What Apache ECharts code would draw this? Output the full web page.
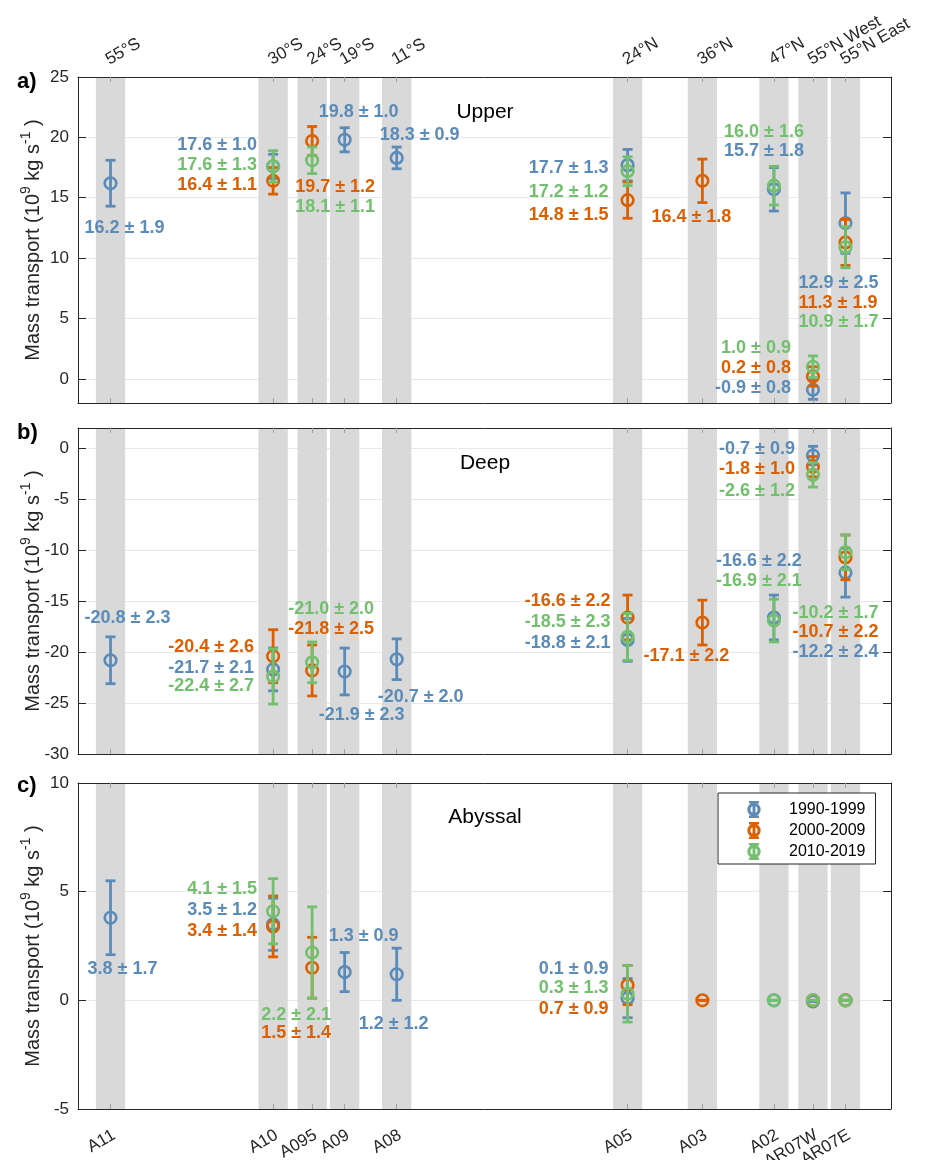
<!DOCTYPE html>
<html><head><meta charset="utf-8">
<script src="https://cdn.jsdelivr.net/npm/echarts@6/dist/echarts.min.js"></script>
<style>html,body{margin:0;padding:0;background:#fff}#c{width:928px;height:1160px}</style>
</head><body><div id="c"></div>
<script>
// ---------- data ----------
const sections = ['A11','A10','A095','A09','A08','A05','A03','A02','AR07W','AR07E'];
const latLabels = ['55°S','30°S','24°S','19°S','11°S','24°N','36°N','47°N','55°N West','55°N East'];
const sectionX = [-55,-30,-24,-19,-11,24.5,36,47,53,58];
const periods = ['1990-1999','2000-2009','2010-2019'];

const upper1990    = [16.2, 17.6, null, 19.8, 18.3, 17.7, null, 15.7, -0.9, 12.9];
const upper1990Err = [1.9, 1.0, null, 1.0, 0.9, 1.3, null, 1.8, 0.8, 2.5];
const upper2000    = [null, 16.4, 19.7, null, null, 14.8, 16.4, null, 0.2, 11.3];
const upper2000Err = [null, 1.1, 1.2, null, null, 1.5, 1.8, null, 0.8, 1.9];
const upper2010    = [null, 17.6, 18.1, null, null, 17.2, null, 16.0, 1.0, 10.9];
const upper2010Err = [null, 1.3, 1.1, null, null, 1.2, null, 1.6, 0.9, 1.7];

const deep1990    = [-20.8, -21.7, null, -21.9, -20.7, -18.8, null, -16.6, -0.7, -12.2];
const deep1990Err = [2.3, 2.1, null, 2.3, 2.0, 2.1, null, 2.2, 0.9, 2.4];
const deep2000    = [null, -20.4, -21.8, null, null, -16.6, -17.1, null, -1.8, -10.7];
const deep2000Err = [null, 2.6, 2.5, null, null, 2.2, 2.2, null, 1.0, 2.2];
const deep2010    = [null, -22.4, -21.0, null, null, -18.5, null, -16.9, -2.6, -10.2];
const deep2010Err = [null, 2.7, 2.0, null, null, 2.3, null, 2.1, 1.2, 1.7];

const abyssal1990    = [3.8, 3.5, null, 1.3, 1.2, 0.1, null, 0, -0.05, 0];
const abyssal1990Err = [1.7, 1.2, null, 0.9, 1.2, 0.9, null, 0, 0, 0];
const abyssal2000    = [null, 3.4, 1.5, null, null, 0.7, 0, null, 0, 0];
const abyssal2000Err = [null, 1.4, 1.4, null, null, 0.9, 0, null, 0, 0];
const abyssal2010    = [null, 4.1, 2.2, null, null, 0.3, null, 0, 0, 0];
const abyssal2010Err = [null, 1.5, 2.1, null, null, 1.3, null, 0, 0, 0];

const upperTicks = [0, 5, 10, 15, 20, 25];
const deepTicks = [-30, -25, -20, -15, -10, -5, 0];
const abyssalTicks = [-5, 0, 5, 10];

// ---------- layout of annotation labels: [section, period, y (data units), dx px, align] ----------
const upperLabelLayout = [
  [0,0,12.5,-26,'left'],
  [1,0,19.37,-16,'right'],[1,2,17.72,-16,'right'],[1,1,16.06,-16,'right'],
  [2,1,15.9,-17,'left'],[2,2,14.24,-17,'left'],
  [3,0,22.1,-26,'left'],
  [4,0,20.2,-17,'left'],
  [5,0,17.47,-19,'right'],[5,2,15.48,-19,'right'],[5,1,13.58,-19,'right'],
  [6,1,13.41,-51,'left'],
  [7,2,20.45,30,'right'],[7,0,18.87,30,'right'],
  [9,0,7.95,-47,'left'],[9,1,6.29,-47,'left'],[9,2,4.72,-47,'left'],
  [8,2,2.57,-22,'right'],[8,1,0.91,-22,'right'],[8,0,-0.75,-22,'right']
];
const deepLabelLayout = [
  [0,0,-16.7,-26,'left'],
  [1,1,-19.47,-19,'right'],[1,0,-21.53,-19,'right'],[1,2,-23.3,-19,'right'],
  [2,2,-15.73,-24,'left'],[2,1,-17.7,-24,'left'],
  [3,0,-26.16,-26,'left'],
  [4,0,-24.39,-19,'left'],
  [5,1,-14.95,-17,'right'],[5,2,-17.01,-17,'right'],[5,0,-19.08,-17,'right'],
  [6,1,-20.35,-59,'left'],
  [8,0,-0.1,-18,'right'],[8,1,-2.06,-18,'right'],[8,2,-4.23,-18,'right'],
  [7,0,-11.1,-58,'left'],[7,2,-12.98,-58,'left'],
  [9,2,-16.13,-53,'left'],[9,1,-17.99,-53,'left'],[9,0,-19.96,-53,'left']
];
const abyssalLabelLayout = [
  [0,0,1.44,-23,'left'],
  [1,2,5.12,-16,'right'],[1,0,4.16,-16,'right'],[1,1,3.19,-16,'right'],
  [2,2,-0.68,-51,'left'],[2,1,-1.5,-51,'left'],
  [3,0,2.96,-16,'left'],
  [4,0,-1.09,-38,'left'],
  [5,0,1.44,-19,'right'],[5,2,0.57,-19,'right'],[5,1,-0.4,-19,'right']
];

// ---------- styles ----------
const colors = ['#5b8bb8', '#dc5f00', '#72c06e'];
const FONT = '"Liberation Sans", Arial, Helvetica, sans-serif';
const AX = '#262626';
const bandWidth = 4.5;
const xMin = -60, xMax = 65;

const panels = [
  {vals:[upper1990,upper2000,upper2010], errs:[upper1990Err,upper2000Err,upper2010Err], ticks:upperTicks, min:-2, max:25, layout:upperLabelLayout, top:77},
  {vals:[deep1990,deep2000,deep2010], errs:[deep1990Err,deep2000Err,deep2010Err], ticks:deepTicks, min:-30, max:2, layout:deepLabelLayout, top:428},
  {vals:[abyssal1990,abyssal2000,abyssal2010], errs:[abyssal1990Err,abyssal2000Err,abyssal2010Err], ticks:abyssalTicks, min:-5, max:10, layout:abyssalLabelLayout, top:783}
];

function nameOf(v, arr) {
  for (let i = 0; i < sectionX.length; i++) if (Math.abs(sectionX[i] - v) < 1e-6) return arr[i];
  return '';
}
// an empty label at the axis end keeps ECharts from dropping the last real label
const labelValues = sectionX.concat([xMax]);

const grids = [], xAxes = [], yAxes = [], series = [];
panels.forEach((p, g) => {
  grids.push({left: 78, right: 37, top: p.top, height: 326, show: false, containLabel: false, outerBoundsMode: 'none'});
  xAxes.push({
    gridIndex: g, type: 'value', min: xMin, max: xMax, position: 'bottom', z: 3,
    axisLine: {show: true, onZero: false, lineStyle: {color: AX, width: 1}},
    axisTick: {show: true, inside: true, length: 5, customValues: sectionX, lineStyle: {color: '#a0a0a0'}},
    axisLabel: {show: g === 2, customValues: labelValues, rotate: 30, margin: 27, padding: [0, -4, 0, 0],
      fontSize: 17, color: AX, fontFamily: FONT, hideOverlap: false, formatter: v => nameOf(v, sections)},
    splitLine: {show: false}
  });
  xAxes.push({
    gridIndex: g, type: 'value', min: xMin, max: xMax, position: 'top', z: 3,
    axisLine: {show: true, onZero: false, lineStyle: {color: AX, width: 1}},
    axisTick: {show: true, inside: true, length: 5, customValues: sectionX, lineStyle: {color: '#a0a0a0'}},
    axisLabel: {show: g === 0, customValues: labelValues, rotate: -30, margin: 18, padding: [0, 0, 0, -4],
      fontSize: 17, color: AX, fontFamily: FONT, hideOverlap: false, formatter: v => nameOf(v, latLabels)},
    splitLine: {show: false}
  });
  yAxes.push({
    gridIndex: g, type: 'value', min: p.min, max: p.max, position: 'left', splitNumber: g === 2 ? 3 : 5,
    axisLine: {show: true, onZero: false, lineStyle: {color: AX, width: 1}},
    axisTick: {show: true, inside: true, length: 8, customValues: p.ticks, lineStyle: {color: AX}},
    axisLabel: {customValues: p.ticks, fontSize: 17, color: AX, fontFamily: FONT, margin: 9},
    splitLine: {show: true, lineStyle: {color: '#e8e8e8', width: 1}},
    name: 'Mass transport (10{s|9} kg s{s|-1} )', nameLocation: 'middle', nameGap: 31, nameMoveOverlap: false,
    nameTextStyle: {fontSize: 20, color: AX, fontFamily: FONT, lineHeight: 28,
      rich: {s: {fontSize: 14, fontFamily: FONT, color: AX, verticalAlign: 'top', lineHeight: 14}}}
  });
  yAxes.push({
    gridIndex: g, type: 'value', min: p.min, max: p.max, position: 'right', splitNumber: g === 2 ? 3 : 5,
    axisLine: {show: true, onZero: false, lineStyle: {color: AX, width: 1}},
    axisTick: {show: true, inside: true, length: 8, customValues: p.ticks, lineStyle: {color: AX}},
    axisLabel: {show: false}, splitLine: {show: false}
  });
  const xi = g * 2, yi = g * 2;
  series.push({
    type: 'custom', xAxisIndex: xi, yAxisIndex: yi, silent: true, z: 1,
    data: sectionX.map(x => [x, 0]),
    encode: {x: 0, y: 1},
    renderItem: (params, api) => {
      const x = api.value(0);
      const a = api.coord([x - bandWidth / 2, 0]);
      const b = api.coord([x + bandWidth / 2, 0]);
      const cs = params.coordSys;
      return {type: 'rect', shape: {x: a[0], y: cs.y, width: b[0] - a[0], height: cs.height},
        style: {fill: '#d9d9d9'}};
    }
  });
  for (let k = 0; k < 3; k++) {
    const data = [];
    p.vals[k].forEach((v, i) => { if (v !== null) data.push([sectionX[i], v, p.errs[k][i]]); });
    const col = colors[k];
    series.push({
      type: 'custom', name: periods[k], xAxisIndex: xi, yAxisIndex: yi, z: 2,
      itemStyle: {color: col},
      data, encode: {x: 0, y: 1},
      renderItem: (params, api) => {
        const x = api.value(0), v = api.value(1), e = api.value(2);
        const c = api.coord([x, v]);
        const t = api.coord([x, v + e]);
        const b = api.coord([x, v - e]);
        const cap = 5, lw = 2.8;
        const st = {stroke: col, lineWidth: lw};
        return {type: 'group', children: [
          {type: 'line', shape: {x1: c[0], y1: t[1], x2: c[0], y2: b[1]}, style: st},
          {type: 'line', shape: {x1: c[0] - cap, y1: t[1], x2: c[0] + cap, y2: t[1]}, style: st},
          {type: 'line', shape: {x1: c[0] - cap, y1: b[1], x2: c[0] + cap, y2: b[1]}, style: st},
          {type: 'circle', shape: {cx: c[0], cy: c[1], r: 5.8}, style: {fill: 'none', stroke: col, lineWidth: 2.6}}
        ]};
      }
    });
  }
  series.push({
    type: 'custom', xAxisIndex: xi, yAxisIndex: yi, z: 3, silent: true, clip: false,
    data: p.layout.map(L => [sectionX[L[0]], L[2]]),
    encode: {x: 0, y: 1},
    renderItem: (params, api) => {
      const L = p.layout[params.dataIndex];
      const pt = api.coord([api.value(0), api.value(1)]);
      const v = p.vals[L[1]][L[0]], e = p.errs[L[1]][L[0]];
      return {type: 'text', x: pt[0] + L[3], y: pt[1],
        style: {text: v.toFixed(1) + ' ± ' + e.toFixed(1), fill: colors[L[1]],
          font: 'bold 18px ' + FONT, align: L[4], verticalAlign: 'middle'}};
    }
  });
});

// legend icon drawn in a 60x17 box (tiny corner dots fix the box size)
const legendIcon = 'path://M0,0h0.01v0.01h-0.01ZM59.99,16.99h0.01v0.01h-0.01Z' +
  'M30,1.8A6.7,6.7 0 1,1 29.99,1.8ZM30,5A3.5,3.5 0 1,0 30.01,5Z' +
  'M28.5,0H31.5V17H28.5ZM25,0H35V2.6H25ZM25,14.4H35V17H25Z';

const option = {
  animation: false,
  backgroundColor: '#fff',
  grid: grids, xAxis: xAxes, yAxis: yAxes, series,
  legend: {
    orient: 'vertical', left: 718, top: 793, padding: [8, 10, 4, 6], itemGap: 4,
    itemWidth: 60, itemHeight: 17,
    backgroundColor: '#fff', borderColor: AX, borderWidth: 1,
    textStyle: {fontSize: 16, color: '#000', fontFamily: FONT},
    data: periods.map(n => ({name: n, icon: legendIcon}))
  },
  graphic: [
    {type: 'text', x: 17, y: 82, style: {text: 'a)', font: 'bold 22px ' + FONT, fill: '#000', verticalAlign: 'middle'}},
    {type: 'text', x: 17, y: 433, style: {text: 'b)', font: 'bold 22px ' + FONT, fill: '#000', verticalAlign: 'middle'}},
    {type: 'text', x: 17, y: 786, style: {text: 'c)', font: 'bold 22px ' + FONT, fill: '#000', verticalAlign: 'middle'}},
    {type: 'text', x: 485, y: 112, style: {text: 'Upper', font: '21px ' + FONT, fill: '#000', align: 'center', verticalAlign: 'middle'}},
    {type: 'text', x: 485, y: 463, style: {text: 'Deep', font: '21px ' + FONT, fill: '#000', align: 'center', verticalAlign: 'middle'}},
    {type: 'text', x: 485, y: 817, style: {text: 'Abyssal', font: '21px ' + FONT, fill: '#000', align: 'center', verticalAlign: 'middle'}}
  ]
};
const chart = echarts.init(document.getElementById('c'), null, {renderer: 'canvas', devicePixelRatio: 1});
chart.setOption(option);
</script></body></html>
